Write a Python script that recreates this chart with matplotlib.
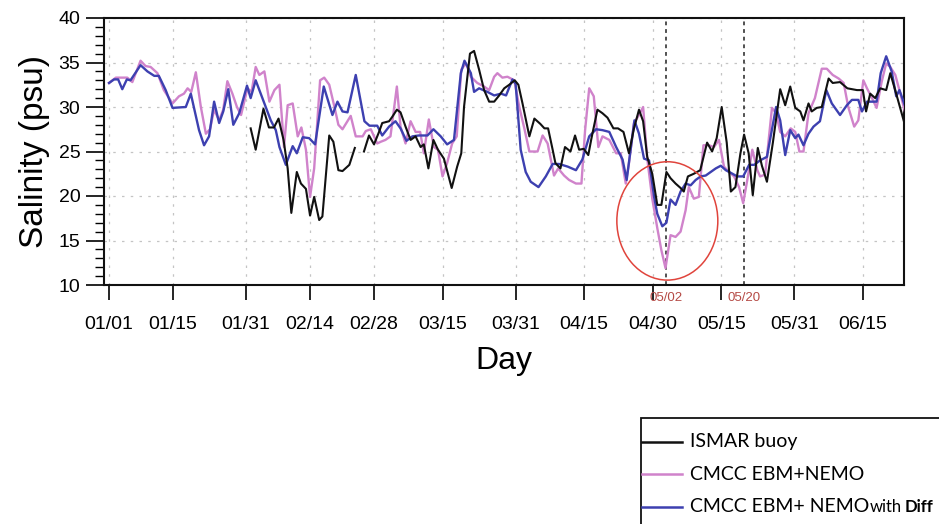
import matplotlib
matplotlib.use("Agg")
import matplotlib.pyplot as plt
import numpy as np
from matplotlib.patches import Ellipse, Rectangle
from matplotlib.lines import Line2D

# ---------------- data (day of year, 0 = 01/01) ----------------
tick_days = [0, 14, 30, 44, 58, 73, 89, 104, 119, 134, 150, 165]
tick_labels = ["01/01", "01/15", "01/31", "02/14", "02/28", "03/15",
               "03/31", "04/15", "04/30", "05/15", "05/31", "06/15"]
event_days = [122, 139]
event_labels = ["05/02", "05/20"]

buoy_day = [31.0, 32.1, 33.8, 35.0, 36.1, 37.1, 38.2, 39.1, 39.9, 41.1, 42.0, 43.1,
            44.0, 44.9, 46.0, 46.7, 48.2, 49.1, 50.2, 51.1, 52.6, 53.8, 54.8, 55.8,
            56.9, 58.0, 59.1, 59.8, 61.3, 62.0, 63.0, 63.8, 64.9, 66.0, 67.1, 68.2,
            68.9, 69.9, 71.0, 72.0, 73.3, 75.0, 76.2, 77.1, 77.7, 79.0, 79.9, 81.0,
            82.1, 83.2, 84.3, 85.4, 86.5, 87.6, 88.8, 89.6, 90.5, 92.0, 93.1, 94.4,
            95.3, 96.1, 97.1, 97.7, 98.8, 99.8, 101.0, 102.0, 102.9, 103.9, 104.9,
            105.6, 106.9, 108.0, 109.1, 110.4, 111.4, 112.6, 113.8, 114.9, 116.0,
            116.9, 117.8, 118.9, 120.0, 120.9, 122.0, 122.9, 124.0, 125.1, 125.8,
            126.7, 128.0, 129.4, 130.9, 132.0, 133.0, 134.1, 135.2, 136.1, 137.1,
            138.2, 139.0, 140.0, 140.9, 142.0, 142.9, 144.0, 145.3, 146.9, 148.0,
            149.1, 150.2, 151.3, 152.0, 153.1, 153.8, 154.9, 156.0, 157.5, 158.4,
            160.0, 161.6, 163.7, 165.0, 165.7, 166.6, 167.7, 168.8, 170.1, 171.0,
            172.4, 174.3]
buoy_sal = [27.6, 25.2, 29.8, 27.7, 27.7, 28.7, 26.3, 23.1, 18.1, 22.7, 21.4, 20.8,
            17.8, 19.9, 17.3, 17.7, 26.8, 26.1, 22.9, 22.8, 23.5, 25.4, np.nan, 25.0,
            26.8, 25.8, 27.2, 28.2, 28.4, 28.9, 29.7, 29.4, 27.8, 26.3, 26.7, 25.5,
            25.8, 23.1, 26.3, 25.2, 24.2, 20.9, 23.3, 24.8, 30.0, 36.0, 36.3, 34.2,
            31.9, 30.6, 30.6, 31.3, 32.1, 32.5, 33.0, 32.5, 30.4, 26.7, 28.7, 28.1,
            27.6, 27.6, 25.2, 23.7, 23.1, 25.5, 25.0, 26.8, 25.2, 25.3, 24.6,
            26.5, 29.7, 29.3, 28.8, 27.6, 27.6, 27.2, 24.8, 27.6, 29.7,
            28.4, 24.4, 22.5, 19.0, 19.0, 22.7, 22.0, 21.4, 20.9, 20.5,
            22.2, 22.5, 22.9, 26.0, 25.0, 26.5, 30.0, 26.0, 20.5, 21.0,
            24.8, 26.9, 24.8, 20.1, 25.4, 23.4, 21.6, 26.0, 32.0, 30.2,
            32.3, 29.9, 29.5, 28.5, 30.4, 29.5, 29.9, 30.0, 33.2, 32.7,
            32.8, 32.1, 31.9, 31.9, 29.5, 31.5, 31.0, 32.1, 31.9, 33.8,
            31.3, 27.8]

ebm_day = [0.0, 1.5, 2.9, 4.0, 5.1, 6.9, 8.0, 9.1, 10.6, 12.0, 13.9, 15.3, 16.4,
           17.2, 18.0, 19.0, 20.1, 21.2, 22.1, 23.0, 24.1, 25.0, 25.9, 27.0, 28.0,
           28.9, 30.3, 31.2, 32.1, 32.9, 34.0, 35.1, 36.2, 37.3, 38.3, 39.1, 40.2,
           41.3, 42.1, 43.1, 44.0, 44.9, 46.2, 47.1, 48.2, 49.3, 50.2, 51.1, 52.9,
           54.0, 55.5, 56.2, 57.3, 58.7, 59.5, 60.5, 61.6, 63.0, 63.8, 64.9, 66.0,
           67.1, 68.1, 68.9, 70.0, 71.1, 72.0, 73.0, 74.0, 75.1, 76.1, 77.1, 78.1,
           79.2, 80.6, 82.1, 83.2, 84.3, 85.0, 86.1, 87.2, 88.7, 89.8, 90.9, 92.0,
           92.9, 93.8, 94.9, 96.0, 97.4, 98.3, 99.6, 100.7, 102.2, 103.4, 104.2,
           105.1, 106.1, 107.1, 108.0, 109.5, 111.0, 112.0, 113.1, 113.8, 114.9,
           116.0, 116.9, 117.8, 118.9, 120.0, 120.9, 121.8, 122.9, 124.0, 125.1,
           126.2, 126.9, 128.0, 129.1, 130.1, 131.3, 132.4, 133.5, 134.6, 135.7,
           136.8, 137.9, 138.8, 139.7, 140.8, 141.9, 142.5, 143.6, 145.1, 146.0,
           146.9, 148.0, 149.2, 150.2, 151.1, 152.0, 153.1, 154.5, 156.0, 157.1,
           158.4, 159.7, 160.8, 161.8, 163.1, 164.0, 165.1, 165.9, 167.0, 168.0,
           169.1, 170.1, 171.0, 172.1, 173.2, 174.3]
ebm_sal = [32.7, 33.3, 33.3, 33.3, 32.8, 35.2, 34.6, 34.5, 33.8, 31.9, 30.4, 31.2, 31.5,
           32.1, 31.7, 33.9, 30.0, 27.0, 27.5, 29.7, 28.5, 29.7, 32.9, 31.5, 30.0,
           29.1, 32.1, 31.7, 34.5, 33.6, 34.0, 30.6, 31.9, 32.5, 25.5, 30.2, 30.4,
           26.7, 27.7, 25.2, 19.9, 23.1, 33.0, 33.3, 32.5, 30.1, 28.0, 27.5, 29.0,
           26.7, 26.7, 27.3, 27.5, 25.9, 26.1, 26.3, 26.7, 32.3, 27.8, 25.9, 28.4,
           27.2, 27.2, 24.8, 28.6, 25.5, 25.2, 22.2, 23.7, 25.9, 26.7, 34.2, 34.9,
           33.4, 32.7, 32.3, 31.9, 33.4, 33.8, 33.3, 33.4, 33.0, 30.0, 27.6, 25.0,
           25.0, 25.0, 26.8, 25.9, 22.3, 23.1, 22.3, 21.8, 21.4, 21.4, 27.4,
           32.1, 31.2, 25.5, 26.7, 26.3, 24.8, 24.8, 21.4, 23.7, 28.2,
           29.1, 30.0, 24.2, 19.7, 16.4, 13.9, 11.9, 15.6, 15.4, 16.0,
           18.4, 21.0, 19.7, 19.9, 25.7, 25.7, 25.5, 26.3, 23.3, 22.7,
           22.2, 21.0, 19.2, 21.8, 25.2, 22.9, 22.2, 22.4, 29.9, 29.3,
           27.2, 26.7, 27.6, 27.2, 25.0, 25.0, 29.3, 31.0, 34.3, 34.3,
           33.6, 33.2, 32.7, 30.0, 27.8, 28.5, 33.0, 32.1, 31.0, 29.9,
           32.8, 34.9, 34.5, 33.6, 31.5, 29.3]

diff_day = [0.0, 1.1, 2.0, 2.9, 3.9, 4.7, 6.9, 8.4, 9.9, 10.9, 12.4, 13.9, 16.8, 17.9,
            19.7, 20.8, 21.9, 23.0, 24.1, 25.0, 26.1, 27.2, 28.5, 30.2, 31.0, 32.1,
            34.0, 35.4, 36.5, 37.3, 38.7, 40.2, 41.1, 42.4, 43.8, 45.1, 47.0, 48.9,
            50.0, 51.1, 52.2, 54.0, 55.9, 57.0, 58.7, 59.8, 61.3, 62.7, 63.8, 65.1,
            66.4, 67.8, 69.7, 71.0, 72.6, 74.0, 75.5, 77.0, 77.8, 79.2, 79.9, 81.0,
            82.8, 84.3, 85.8, 86.9, 88.3, 89.0, 90.1, 91.2, 92.3, 94.0, 95.6, 97.1,
            98.5, 100.4, 102.2, 103.6, 105.1, 106.6, 108.0, 109.5, 111.0, 112.4,
            113.3, 115.0, 116.0, 117.1, 118.2, 119.3, 120.0, 121.1, 122.0, 122.9,
            124.0, 125.1, 126.2, 127.3, 128.4, 129.5, 130.6, 131.7, 132.8, 133.9,
            135.0, 136.1, 137.5, 138.8, 140.1, 141.2, 142.5, 144.0, 146.0, 146.9,
            148.0, 149.1, 150.2, 150.9, 152.0, 153.1, 154.2, 155.6, 157.0, 158.2,
            160.0, 161.5, 162.6, 164.0, 164.8, 165.9, 167.0, 168.0, 168.9, 170.1,
            171.3, 172.3, 173.0, 174.3]
diff_sal = [32.7, 33.1, 33.1, 32.0, 33.1, 33.0, 34.7, 34.0, 33.5, 33.5, 31.9, 29.9, 30.0, 31.5,
            27.4, 25.7, 26.7, 30.6, 28.2, 29.5, 32.0, 28.0, 29.3, 32.4, 31.0, 33.0,
            30.4, 28.5, 27.4, 25.5, 23.5, 25.6, 24.8, 26.6, 26.5, 25.8, 32.3, 29.1,
            30.6, 29.5, 29.4, 33.6, 28.4, 27.9, 27.9, 26.8, 27.8, 28.4, 27.6, 26.2,
            26.7, 26.8, 26.8, 27.5, 26.7, 25.8, 26.3, 33.8, 35.2, 33.8, 31.7, 32.1,
            31.7, 31.3, 31.5, 31.3, 33.1, 32.6, 25.2, 22.7, 21.6, 21.0, 22.2, 23.6,
            23.6, 23.3, 22.9, 24.1, 26.7, 27.5, 27.4, 27.2, 25.5, 24.1,
            21.8, 28.5, 27.0, 24.2, 24.0, 19.9, 18.0, 16.6, 17.0, 19.6,
            19.0, 20.5, 21.4, 21.2, 21.8, 22.2, 22.3, 22.7, 23.1, 23.4,
            22.9, 22.6, 22.2, 22.2, 23.5, 23.5, 24.0, 24.4, 30.0, 28.5,
            24.6, 27.4, 26.5, 26.9, 25.7, 27.0, 27.8, 28.4, 31.9, 30.4,
            29.1, 30.2, 30.8, 30.8, 29.5, 30.6, 30.6, 30.6, 33.8, 35.7,
            34.0, 31.2, 31.9, 30.0]

series_names = ["ISMAR buoy", "CMCC EBM+NEMO", "CMCC EBM+ NEMO"]
# ---------------------------------------------------------------

W, H = 939, 524
fig = plt.figure(figsize=(W / 100, H / 100), dpi=100)
plt.rcParams['font.family'] = ['Liberation Sans', 'DejaVu Sans']

ax_l, ax_r, ax_t, ax_b = 104, 904, 18, 285
ax = fig.add_axes([ax_l / W, 1 - ax_b / H, (ax_r - ax_l) / W, (ax_b - ax_t) / H])

c_buoy = "#111111"
c_ebm = "#d083cb"
c_diff = "#3d40b0"

ax.plot(ebm_day, ebm_sal, color=c_ebm, lw=1.7, zorder=3)
ax.plot(diff_day, diff_sal, color=c_diff, lw=1.7, zorder=4)
ax.plot(buoy_day, buoy_sal, color=c_buoy, lw=1.5, zorder=5)

ax.set_xlim(-1.1, 174.0)
ax.set_ylim(10, 40)

ax.set_xticks(tick_days)
ax.set_xticklabels(tick_labels)
ax.set_yticks(np.arange(10, 41, 5))
ax.set_yticks(np.arange(10, 41, 1), minor=True)

ax.tick_params(axis='x', which='major', direction='out', length=11, width=1.2,
               pad=11, labelsize=14, top=False)
ax.tick_params(axis='y', which='major', direction='out', length=13, width=1.2,
               pad=4, labelsize=14, right=False)
ax.tick_params(axis='y', which='minor', direction='out', length=6.5, width=1.0,
               right=False)

for s in ax.spines.values():
    s.set_linewidth(1.5)
    s.set_color("#111111")

ax.grid(True, which='major', axis='both', color='#c4c4c4', lw=0.9,
        ls=(0, (2, 5)))
ax.set_axisbelow(True)

ax.set_ylabel("Salinity (psu)", fontsize=24, labelpad=6)
ax.set_xlabel("Day", fontsize=23, labelpad=10)

# event markers
for d, lab in zip(event_days, event_labels):
    ax.axvline(d, color='#222222', lw=1.1, ls=(0, (2.5, 2.5)), zorder=2)
    ax.text(d, -0.05, lab, transform=ax.get_xaxis_transform(), ha='center',
            va='center', fontsize=9.5, color='#b54a45', clip_on=False)

ax.add_patch(Ellipse((122.2, 17.2), width=22.1, height=13.3, fill=False,
                     edgecolor='#e0443c', lw=1.1, zorder=6))

# legend (partially cut at the figure edge)
fx = lambda px: px / W
fy = lambda py: 1 - py / H
fig.add_artist(Rectangle((fx(641), fy(540)), fx(960) - fx(641), fy(418) - fy(540),
                         transform=fig.transFigure, fill=False,
                         edgecolor='#111111', lw=1.3))
leg_rows = [441.5, 474, 506.5]
leg_cols = [c_buoy, c_ebm, c_diff]
leg_font = ['Lato', 'DejaVu Sans']
texts = []
for yy, col, name in zip(leg_rows, leg_cols, series_names):
    fig.add_artist(Line2D([fx(642), fx(682)], [fy(yy), fy(yy)],
                          transform=fig.transFigure, color=col, lw=1.8))
    t = fig.text(fx(690), fy(yy), name, fontsize=14, va='center', ha='left',
                 family=leg_font)
    texts.append(t)
t_with = ax.annotate("with", xy=(1, 0), xycoords=texts[2], xytext=(0.5, 0),
                     textcoords='offset points', fontsize=12, va='bottom',
                     ha='left', family=leg_font, annotation_clip=False)
ax.annotate("Diff", xy=(1, 0), xycoords=t_with, xytext=(2, 0),
            textcoords='offset points', fontsize=12, va='bottom', ha='left',
            fontweight='bold', family=leg_font, annotation_clip=False)

fig.savefig("out.png", dpi=100)
